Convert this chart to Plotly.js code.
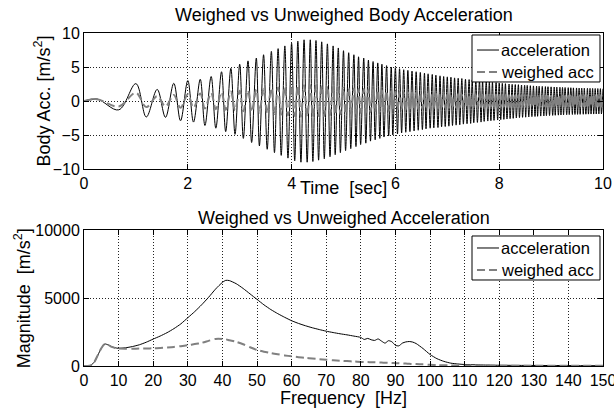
<!DOCTYPE html>
<html>
<head>
<meta charset="utf-8">
<script src="https://cdn.plot.ly/plotly-3.0.1.min.js"></script>
<style>
  html, body { margin: 0; padding: 0; background: #ffffff; }
  #chart { width: 614px; height: 413px; }
</style>
</head>
<body>
<div id="chart"></div>
<script>
// ---- Time response: extremes of each half-cycle (seconds, m/s^2) ----
// Troughs (first entry is the start of the record)
const tTrough = [
  0, 0.67, 1.20, 1.57, 1.86, 2.11, 2.33, 2.54, 2.73, 2.91,
  3.07, 3.23, 3.38, 3.53, 3.67, 3.80, 3.93, 4.06, 4.18, 4.30,
  4.41, 4.52, 4.63, 4.74, 4.84, 4.94, 5.04, 5.14, 5.24, 5.33,
  5.43, 5.52, 5.61, 5.70, 5.78, 5.87, 5.95, 6.04, 6.12, 6.20,
  6.28, 6.36, 6.44, 6.52, 6.59, 6.67, 6.74, 6.82, 6.89, 6.96,
  7.03, 7.10, 7.17, 7.24, 7.31, 7.38, 7.45, 7.51, 7.58, 7.65,
  7.71, 7.78, 7.84, 7.90, 7.97, 8.03, 8.09, 8.15, 8.21, 8.27,
  8.33, 8.39, 8.45, 8.51, 8.57, 8.63, 8.69, 8.74, 8.80, 8.86,
  8.91, 8.97, 9.03, 9.08, 9.14, 9.19, 9.24, 9.30, 9.35, 9.41,
  9.46, 9.51, 9.56, 9.62, 9.67, 9.72, 9.77, 9.82, 9.87, 9.92,
  9.97
];
// Crests
const tPeak = [
  0.25, 1.00, 1.41, 1.73, 2.00, 2.24, 2.45, 2.65, 2.83, 3.00,
  3.16, 3.32, 3.46, 3.61, 3.74, 3.87, 4.00, 4.12, 4.24, 4.36,
  4.47, 4.58, 4.69, 4.80, 4.90, 5.00, 5.10, 5.20, 5.29, 5.39,
  5.48, 5.57, 5.66, 5.74, 5.83, 5.92, 6.00, 6.08, 6.16, 6.24,
  6.32, 6.40, 6.48, 6.56, 6.63, 6.71, 6.78, 6.86, 6.93, 7.00,
  7.07, 7.14, 7.21, 7.28, 7.35, 7.42, 7.48, 7.55, 7.62, 7.68,
  7.75, 7.81, 7.87, 7.94, 8.00, 8.06, 8.12, 8.19, 8.25, 8.31,
  8.37, 8.43, 8.49, 8.54, 8.60, 8.66, 8.72, 8.77, 8.83, 8.89,
  8.94, 9.00, 9.06, 9.11, 9.17, 9.22, 9.27, 9.33, 9.38, 9.43,
  9.49, 9.54, 9.59, 9.64, 9.70, 9.75, 9.80, 9.85, 9.90, 9.95,
  10.00
];

// Unweighted body acceleration at those extremes
const accTrough = [
  0, -1.3, -2.35, -2.4, -2.9, -3.1, -3.6, -4.0, -4.5, -4.9,
  -5.5, -6.1, -6.6, -7.1, -7.6, -8.0, -8.4, -8.8, -9.0, -9.0,
  -8.9, -8.7, -8.5, -8.2, -7.9, -7.6, -7.3, -7.0, -6.7, -6.4,
  -6.2, -5.9, -5.7, -5.5, -5.3, -5.15, -5.0, -4.85, -4.7, -4.6,
  -4.5, -4.4, -4.3, -4.2, -4.1, -4.0, -3.95, -3.9, -3.8, -3.75,
  -3.7, -3.6, -3.55, -3.5, -3.4, -3.35, -3.3, -3.2, -3.15, -3.1,
  -3.0, -2.95, -2.9, -2.85, -2.8, -2.75, -2.7, -2.65, -2.6, -2.55,
  -2.5, -2.45, -2.4, -2.38, -2.35, -2.3, -2.28, -2.25, -2.22, -2.2,
  -2.17, -2.15, -2.12, -2.1, -2.08, -2.06, -2.04, -2.02, -2.0, -1.99,
  -1.98, -1.97, -1.96, -1.95, -1.94, -1.93, -1.92, -1.92, -1.91, -1.9,
  -1.9
];
const accPeak = [
  0.3, 2.55, 1.7, 2.6, 3.0, 3.2, 3.6, 4.3, 4.8, 5.4,
  5.9, 6.3, 6.8, 7.3, 7.7, 8.1, 8.5, 8.8, 9.0, 9.0,
  8.9, 8.7, 8.4, 8.1, 7.8, 7.4, 7.1, 6.8, 6.5, 6.3,
  6.0, 5.8, 5.6, 5.4, 5.2, 5.0, 4.9, 4.75, 4.6, 4.5,
  4.4, 4.3, 4.2, 4.1, 4.0, 3.9, 3.8, 3.7, 3.6, 3.55,
  3.5, 3.4, 3.35, 3.3, 3.2, 3.15, 3.1, 3.0, 2.95, 2.9,
  2.85, 2.8, 2.75, 2.7, 2.65, 2.6, 2.55, 2.5, 2.45, 2.42,
  2.4, 2.35, 2.32, 2.3, 2.25, 2.22, 2.2, 2.17, 2.15, 2.12,
  2.1, 2.08, 2.06, 2.04, 2.02, 2.0, 1.98, 1.96, 1.95, 1.93,
  1.92, 1.9, 1.89, 1.88, 1.87, 1.86, 1.85, 1.84, 1.83, 1.82,
  1.8
];

// Frequency-weighted acceleration at the same extremes
const wAccTrough = [
  0, -0.8, -0.9, -0.8, -1.0, -1.0, -1.1, -1.2, -1.3, -1.4,
  -1.5, -1.6, -1.7, -1.8, -1.9, -2.0, -2.1, -2.2, -2.3, -2.3,
  -2.3, -2.2, -2.2, -2.1, -2.0, -1.95, -1.9, -1.85, -1.8, -1.75,
  -1.7, -1.65, -1.6, -1.55, -1.5, -1.45, -1.4, -1.35, -1.3, -1.3,
  -1.25, -1.2, -1.2, -1.15, -1.15, -1.1, -1.1, -1.05, -1.05, -1.0,
  -1.0, -1.0, -0.98, -0.96, -0.95, -0.94, -0.93, -0.92, -0.91, -0.9,
  -0.9, -0.89, -0.88, -0.88, -0.87, -0.87, -0.86, -0.86, -0.85, -0.85,
  -0.85, -0.84, -0.84, -0.84, -0.83, -0.83, -0.83, -0.82, -0.82, -0.82,
  -0.82, -0.81, -0.81, -0.81, -0.81, -0.8, -0.8, -0.8, -0.8, -0.8,
  -0.8, -0.8, -0.8, -0.8, -0.8, -0.8, -0.8, -0.8, -0.8, -0.8,
  -0.8
];
const wAccPeak = [
  0.25, 1.2, 0.7, 0.9, 1.0, 1.1, 1.2, 1.3, 1.4, 1.5,
  1.6, 1.7, 1.8, 1.9, 2.0, 2.1, 2.2, 2.3, 2.3, 2.3,
  2.3, 2.2, 2.2, 2.1, 2.0, 1.95, 1.9, 1.85, 1.8, 1.75,
  1.7, 1.65, 1.6, 1.55, 1.5, 1.45, 1.4, 1.35, 1.3, 1.3,
  1.25, 1.2, 1.2, 1.15, 1.15, 1.1, 1.1, 1.05, 1.05, 1.0,
  1.0, 1.0, 0.98, 0.96, 0.95, 0.94, 0.93, 0.92, 0.91, 0.9,
  0.9, 0.89, 0.88, 0.88, 0.87, 0.87, 0.86, 0.86, 0.85, 0.85,
  0.85, 0.84, 0.84, 0.84, 0.83, 0.83, 0.83, 0.82, 0.82, 0.82,
  0.82, 0.81, 0.81, 0.81, 0.81, 0.8, 0.8, 0.8, 0.8, 0.8,
  0.8, 0.8, 0.8, 0.8, 0.8, 0.8, 0.8, 0.8, 0.8, 0.8,
  0.8
];

// ---- Spectrum magnitude (Hz, m/s^2) ----
const freq = [
  0, 1, 2, 3, 4, 5, 6, 7, 8, 9, 10,
  12, 14, 16, 18, 20, 22, 24, 26, 28, 30, 32, 34, 36, 38, 40,
  41,
  42, 44, 46, 48, 50, 52, 54, 56, 58, 60, 62, 64, 66, 68, 70, 72, 74, 76, 78, 80,
  81, 82, 83, 84, 85, 86, 87, 88, 89, 90, 91, 92, 93, 94, 95, 96,
  98, 100, 102, 104, 106, 108, 110,
  115, 120, 130, 140, 150
];
const accMag = [
  0, 0, 50, 300, 800, 1300, 1620, 1550, 1420, 1340, 1300,
  1340, 1430, 1560, 1750, 1980, 2200, 2450, 2750, 3100, 3550, 4000, 4500, 5050, 5650, 6150,
  6300,
  6280, 6050, 5700, 5300, 4900, 4500, 4150, 3850, 3580, 3330, 3130, 2960, 2810, 2680, 2560, 2460, 2370, 2290, 2200, 2100,
  1950, 2030, 1930, 1880, 1990, 1830, 1680, 1860, 1780, 1520, 1480, 1680, 1770, 1800, 1760, 1650,
  1280, 850, 540, 340, 210, 150, 110,
  75, 55, 40, 30, 20
];
const wAccMag = [
  0, 0, 50, 300, 800, 1300, 1620, 1550, 1400, 1320, 1280,
  1270, 1270, 1280, 1290, 1300, 1330, 1360, 1400, 1460, 1530, 1610, 1700, 1850, 1990, 1990,
  1960,
  1900, 1780, 1600, 1380, 1180, 1050, 950, 860, 780, 710, 650, 600, 550, 500, 460, 420, 390, 360, 330, 300,
  290, 285, 280, 270, 260, 250, 240, 230, 220, 210, 200, 190, 175, 160, 150, 140,
  120, 90, 70, 55, 45, 40, 35,
  30, 25, 20, 15, 10
];

const seriesNames = ['acceleration', 'weighed acc'];
const timeTicks = [0, 2, 4, 6, 8, 10];
const accTicks = [-10, -5, 0, 5, 10];
const freqTicks = [0, 10, 20, 30, 40, 50, 60, 70, 80, 90, 100, 110, 120, 130, 140, 150];
const magTicks = [0, 5000, 10000];
const magTickText = ['0', '5000', '10000'];

// Alternate troughs and crests into one time-ordered series
function interleave(a, b) {
  const out = [];
  const n = Math.max(a.length, b.length);
  for (let i = 0; i < n; i++) {
    if (i < a.length) out.push(a[i]);
    if (i < b.length) out.push(b[i]);
  }
  return out;
}

const tAll = interleave(tTrough, tPeak);
const accAll = interleave(accTrough, accPeak);
const wAccAll = interleave(wAccTrough, wAccPeak);

const FONT = 'Liberation Sans, Arial, Helvetica, sans-serif';
const BLACK = '#000000';
const GREY = '#808080';
const DASH = '8px,4px';

const traces = [
  { x: tAll, y: accAll, type: 'scatter', mode: 'lines', name: seriesNames[0],
    line: { color: BLACK, width: 1, shape: 'spline', smoothing: 1 }, xaxis: 'x', yaxis: 'y' },
  { x: tAll, y: wAccAll, type: 'scatter', mode: 'lines', name: seriesNames[1],
    line: { color: GREY, width: 2, dash: DASH, shape: 'spline', smoothing: 1 }, xaxis: 'x', yaxis: 'y' },
  { x: freq, y: accMag, type: 'scatter', mode: 'lines', name: seriesNames[0],
    line: { color: BLACK, width: 1, shape: 'spline', smoothing: 0.6 }, xaxis: 'x2', yaxis: 'y2' },
  { x: freq, y: wAccMag, type: 'scatter', mode: 'lines', name: seriesNames[1],
    line: { color: GREY, width: 2, dash: DASH, shape: 'spline', smoothing: 0.6 }, xaxis: 'x2', yaxis: 'y2' }
];

function axisStyle(extra) {
  return Object.assign({
    showline: true, linecolor: BLACK, linewidth: 1, mirror: 'ticks',
    ticks: 'inside', ticklen: 5, tickcolor: BLACK, tickwidth: 1,
    showgrid: true, gridcolor: '#222222', gridwidth: 1, griddash: '1px,2px',
    zeroline: false, fixedrange: true, ticklabeloverflow: 'allow',
    tickfont: { family: FONT, size: 16, color: BLACK }
  }, extra);
}

// Boxed legends drawn in paper coordinates (one per panel)
function legendBox(y0, y1, rowTop, rowBottom) {
  const x0 = 0.7476, x1 = 0.9942, lx0 = 0.7572, lx1 = 0.7996, tx = 0.7996;
  const shapes = [
    { type: 'rect', xref: 'paper', yref: 'paper', x0: x0, x1: x1, y0: y0, y1: y1,
      line: { color: BLACK, width: 1 }, fillcolor: '#ffffff', layer: 'above' },
    { type: 'line', xref: 'paper', yref: 'paper', x0: lx0, x1: lx1, y0: rowTop, y1: rowTop,
      line: { color: BLACK, width: 1 }, layer: 'above' },
    { type: 'line', xref: 'paper', yref: 'paper', x0: lx0, x1: lx1, y0: rowBottom, y1: rowBottom,
      line: { color: GREY, width: 2, dash: DASH }, layer: 'above' }
  ];
  const notes = [rowTop, rowBottom].map((ry, i) => ({
    text: seriesNames[i], xref: 'paper', yref: 'paper', x: tx, y: ry,
    xanchor: 'left', yanchor: 'middle', showarrow: false,
    font: { family: FONT, size: 16.5, color: BLACK }
  }));
  return { shapes, notes };
}

const topLegend = legendBox(0.8529, 0.9940, 0.9489, 0.8829);
const bottomLegend = legendBox(0.2583, 0.3904, 0.3544, 0.2883);

function label(text, x, y, angle) {
  return { text: text, xref: 'paper', yref: 'paper', x: x, y: y,
    xanchor: 'center', yanchor: 'middle', showarrow: false, textangle: angle || 0,
    font: { family: FONT, size: 18, color: BLACK } };
}

const layout = {
  width: 614, height: 413,
  margin: { l: 84, r: 11, t: 33, b: 47 },
  paper_bgcolor: '#ffffff', plot_bgcolor: '#ffffff',
  font: { family: FONT, size: 16, color: BLACK },
  showlegend: false,
  xaxis: axisStyle({ domain: [0, 1], range: [0, 10], anchor: 'y', tickvals: timeTicks }),
  yaxis: axisStyle({ domain: [0.5916, 1], range: [-10, 10], anchor: 'x', tickvals: accTicks }),
  xaxis2: axisStyle({ domain: [0, 1], range: [0, 150], anchor: 'y2', tickvals: freqTicks }),
  yaxis2: axisStyle({ domain: [0, 0.4084], range: [0, 10000], anchor: 'x2',
    tickvals: magTicks, ticktext: magTickText }),
  shapes: topLegend.shapes.concat(bottomLegend.shapes),
  annotations: [
    label('Weighed vs Unweighed Body Acceleration', 0.5, 1.054),
    label('Weighed vs Unweighed Acceleration', 0.5, 0.444),
    label('Time  [sec]', 0.5, 0.536),
    label('Frequency  [Hz]', 0.5, -0.096),
    label('Body Acc. [m/s<sup>2</sup>]', -0.079, 0.797, -90),
    label('Magnitude  [m/s<sup>2</sup>]', -0.119, 0.204, -90)
  ].concat(topLegend.notes, bottomLegend.notes)
};

Plotly.newPlot('chart', traces, layout, { displayModeBar: false, staticPlot: true });
</script>
</body>
</html>
